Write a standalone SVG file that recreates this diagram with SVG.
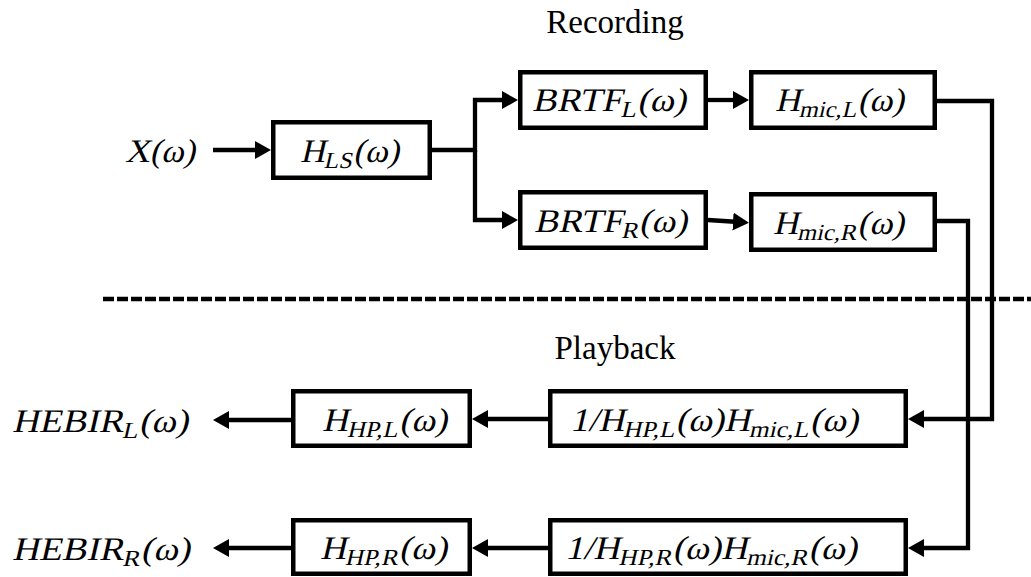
<svg xmlns="http://www.w3.org/2000/svg" width="1031" height="577" viewBox="0 0 1031 577">
<style>
.box{fill:#fff;stroke:#000;stroke-width:4.5}
.conn{fill:none;stroke:#000;stroke-width:4.3;stroke-linejoin:miter}
.dash{fill:none;stroke:#000;stroke-width:4.3;stroke-dasharray:11 3}
.m,.t{font-family:"Liberation Serif",serif;font-size:33px;fill:#000}
.i{font-size:33px}
.s{font-size:23px}
</style>
<defs>
<marker id="ah" markerUnits="userSpaceOnUse" markerWidth="16" markerHeight="18" refX="6" refY="9" orient="auto" viewBox="0 0 16 18"><path d="M0,0 L16,9 L0,18 z" fill="#000"/></marker>
</defs>
<rect width="1031" height="577" fill="#fff"/>
<g id="labels">
<text class="t" x="615" y="33" text-anchor="middle">Recording</text>
<text class="t" x="615" y="359" text-anchor="middle">Playback</text>
</g>
<g id="connectors">
<path class="dash" d="M103,299 H1031"/>
<path class="conn" marker-end="url(#ah)" d="M213,150 H261"/>
<path class="conn" marker-end="url(#ah)" d="M432,150 H475 V100 H508"/>
<path class="conn" marker-end="url(#ah)" d="M475,150 V220 H508"/>
<path class="conn" marker-end="url(#ah)" d="M708,100 H739"/>
<path class="conn" marker-end="url(#ah)" d="M708,220 L739,222"/>
<path class="conn" marker-end="url(#ah)" d="M937,101 H992 V419 H918"/>
<path class="conn" marker-end="url(#ah)" d="M937,221 H968 V548 H918"/>
<path class="conn" marker-end="url(#ah)" d="M548,419 H482"/>
<path class="conn" marker-end="url(#ah)" d="M291,420 H223"/>
<path class="conn" marker-end="url(#ah)" d="M548,548 H482"/>
<path class="conn" marker-end="url(#ah)" d="M291,548 H223"/>
</g>
<g id="input_X">
<text class="m" transform="translate(125,162) skewX(-13)" textLength="70" lengthAdjust="spacingAndGlyphs"><tspan class="i">X</tspan>(<tspan class="i">ω</tspan>)</text>
</g>
<g id="node_HLS">
<rect class="box" x="273.25" y="122.25" width="156.5" height="55.5"/>
<text class="m" transform="translate(300,162) skewX(-13)" textLength="99" lengthAdjust="spacingAndGlyphs"><tspan class="i">H</tspan><tspan class="s" dy="6">LS</tspan><tspan dy="-6">(</tspan><tspan class="i">ω</tspan>)</text>
</g>
<g id="node_BRTFL">
<rect class="box" x="520.25" y="72.25" width="185.5" height="55.5"/>
<text class="m" transform="translate(532,111) skewX(-13)" textLength="154" lengthAdjust="spacingAndGlyphs"><tspan class="i">BRTF</tspan><tspan class="s" dy="6">L</tspan><tspan dy="-6">(</tspan><tspan class="i">ω</tspan>)</text>
</g>
<g id="node_HmicL">
<rect class="box" x="751.25" y="72.25" width="183.5" height="55.5"/>
<text class="m" transform="translate(775,111) skewX(-13)" textLength="129" lengthAdjust="spacingAndGlyphs"><tspan class="i">H</tspan><tspan class="s" dy="6">mic,L</tspan><tspan dy="-6">(</tspan><tspan class="i">ω</tspan>)</text>
</g>
<g id="node_BRTFR">
<rect class="box" x="520.25" y="192.25" width="185.5" height="55.5"/>
<text class="m" transform="translate(534,232) skewX(-13)" textLength="153" lengthAdjust="spacingAndGlyphs"><tspan class="i">BRTF</tspan><tspan class="s" dy="6">R</tspan><tspan dy="-6">(</tspan><tspan class="i">ω</tspan>)</text>
</g>
<g id="node_HmicR">
<rect class="box" x="751.25" y="194.25" width="183.5" height="55.5"/>
<text class="m" transform="translate(773,234) skewX(-13)" textLength="131" lengthAdjust="spacingAndGlyphs"><tspan class="i">H</tspan><tspan class="s" dy="6">mic,R</tspan><tspan dy="-6">(</tspan><tspan class="i">ω</tspan>)</text>
</g>
<g id="node_invL">
<rect class="box" x="550.25" y="391.25" width="355.5" height="54.5"/>
<text class="m" transform="translate(570,431) skewX(-13)" textLength="288" lengthAdjust="spacingAndGlyphs">1/<tspan class="i">H</tspan><tspan class="s" dy="6">HP,L</tspan><tspan dy="-6">(</tspan><tspan class="i">ω</tspan>)<tspan class="i">H</tspan><tspan class="s" dy="6">mic,L</tspan><tspan dy="-6">(</tspan><tspan class="i">ω</tspan>)</text>
</g>
<g id="node_HHPL">
<rect class="box" x="293.25" y="391.25" width="176.5" height="54.5"/>
<text class="m" transform="translate(322,431) skewX(-13)" textLength="125" lengthAdjust="spacingAndGlyphs"><tspan class="i">H</tspan><tspan class="s" dy="6">HP,L</tspan><tspan dy="-6">(</tspan><tspan class="i">ω</tspan>)</text>
</g>
<g id="output_HEBIRL">
<text class="m" transform="translate(12,432) skewX(-13)" textLength="176" lengthAdjust="spacingAndGlyphs"><tspan class="i">HEBIR</tspan><tspan class="s" dy="6">L</tspan><tspan dy="-6">(</tspan><tspan class="i">ω</tspan>)</text>
</g>
<g id="node_invR">
<rect class="box" x="550.25" y="520.25" width="355.5" height="53.5"/>
<text class="m" transform="translate(565,559) skewX(-13)" textLength="292" lengthAdjust="spacingAndGlyphs">1/<tspan class="i">H</tspan><tspan class="s" dy="6">HP,R</tspan><tspan dy="-6">(</tspan><tspan class="i">ω</tspan>)<tspan class="i">H</tspan><tspan class="s" dy="6">mic,R</tspan><tspan dy="-6">(</tspan><tspan class="i">ω</tspan>)</text>
</g>
<g id="node_HHPR">
<rect class="box" x="293.25" y="520.25" width="176.5" height="53.5"/>
<text class="m" transform="translate(320,559) skewX(-13)" textLength="127" lengthAdjust="spacingAndGlyphs"><tspan class="i">H</tspan><tspan class="s" dy="6">HP,R</tspan><tspan dy="-6">(</tspan><tspan class="i">ω</tspan>)</text>
</g>
<g id="output_HEBIRR">
<text class="m" transform="translate(12,560) skewX(-13)" textLength="178" lengthAdjust="spacingAndGlyphs"><tspan class="i">HEBIR</tspan><tspan class="s" dy="6">R</tspan><tspan dy="-6">(</tspan><tspan class="i">ω</tspan>)</text>
</g>
</svg>
